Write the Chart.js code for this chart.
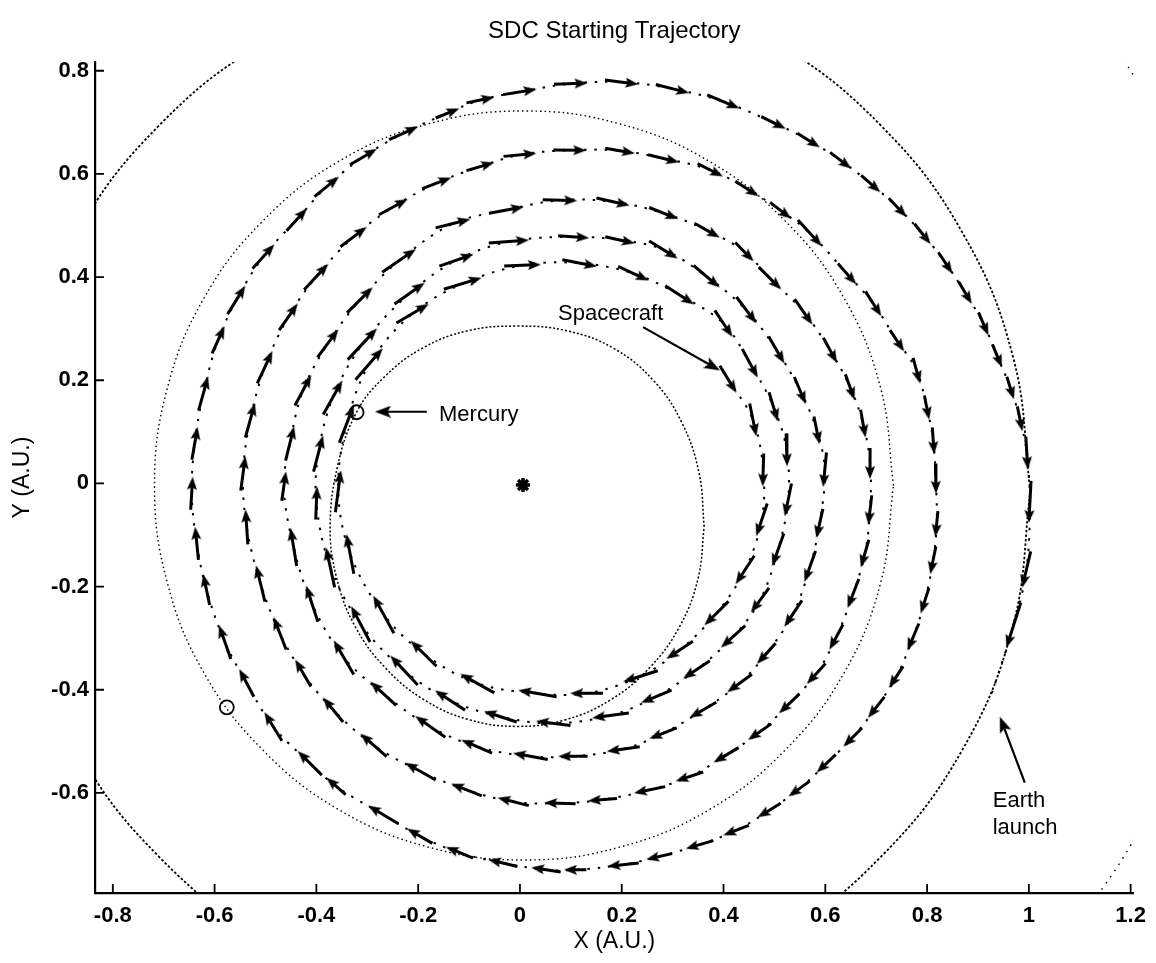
<!DOCTYPE html>
<html>
<head>
<meta charset="utf-8">
<script src="https://cdn.jsdelivr.net/npm/chart.js@4/dist/chart.umd.min.js"></script>
<style>
html,body{margin:0;padding:0;background:#fff;}
#wrap{width:1156px;height:963px;}
</style>
</head>
<body>
<div id="wrap"><canvas id="c" width="1156" height="963"></canvas></div>
<script>
// ---------- text ----------
const chartTitle = 'SDC Starting Trajectory';
const xAxisTitle = 'X (A.U.)';
const yAxisTitle = 'Y (A.U.)';
const xTickValues = [-0.8, -0.6, -0.4, -0.2, 0, 0.2, 0.4, 0.6, 0.8, 1, 1.2];
const yTickValues = [-0.6, -0.4, -0.2, 0, 0.2, 0.4, 0.6, 0.8];
const xRange = [-0.835, 1.206];
const yRange = [-0.794, 0.817];

// ---------- orbits ----------
const earthOrbit = [
  [1.003,-0.015],[0.969,0.245],[0.869,0.487],[0.709,0.694],[0.502,0.854],[0.260,0.954],
  [0,0.988],[-0.260,0.954],[-0.502,0.854],[-0.709,0.694],[-0.869,0.487],[-0.969,0.245],
  [-1.003,-0.015],[-0.969,-0.275],[-0.869,-0.517],[-0.709,-0.724],[-0.502,-0.884],[-0.260,-0.984],
  [0,-1.018],[0.260,-0.984],[0.502,-0.884],[0.709,-0.724],[0.869,-0.517],[0.969,-0.275],[1.003,-0.015]
];
const venusOrbit = [
  [0.734,-0.004],[0.709,0.184],[0.637,0.359],[0.521,0.509],[0.371,0.625],[0.196,0.697],
  [0.008,0.722],[-0.180,0.697],[-0.355,0.625],[-0.505,0.509],[-0.621,0.359],[-0.693,0.184],
  [-0.718,-0.004],[-0.693,-0.192],[-0.621,-0.367],[-0.505,-0.517],[-0.355,-0.633],[-0.180,-0.705],
  [0.008,-0.730],[0.196,-0.705],[0.371,-0.633],[0.521,-0.517],[0.637,-0.367],[0.709,-0.192],[0.734,-0.004]
];
const mercuryOrbit = [
  [0.362,-0.084],[0.352,0.020],[0.318,0.118],[0.262,0.200],[0.184,0.262],[0.092,0.296],
  [-0.005,0.305],[-0.102,0.296],[-0.192,0.262],[-0.268,0.205],[-0.321,0.138],[-0.358,0.035],
  [-0.373,-0.084],[-0.360,-0.184],[-0.324,-0.277],[-0.265,-0.357],[-0.189,-0.419],[-0.100,-0.458],
  [-0.005,-0.471],[0.090,-0.458],[0.179,-0.419],[0.255,-0.357],[0.314,-0.277],[0.350,-0.184],[0.362,-0.084]
];
const marsOrbit = [
  [1.065,-0.893],[1.204,-0.695],[1.311,-0.477],[1.379,-0.243],[1.410,0],
  [1.398,0.247],[1.344,0.489],[1.247,0.720],[1.111,0.932]
];
const sunPosition = [[0.006,-0.003]];
const planetMarkers = [[-0.321,0.138],[-0.576,-0.434]];

// ---------- spacecraft trajectory (arrow positions, in time order) ----------
const trajectory = [
  [0.409,0.202],[0.458,0.123],[0.478,0.026],[0.475,-0.071],[0.442,-0.168],[0.386,-0.252],
  [0.314,-0.323],[0.236,-0.374],[0.131,-0.407],[0.033,-0.407],[-0.085,-0.387],[-0.19,-0.329],
  [-0.269,-0.252],[-0.334,-0.135],[-0.357,-0.013],[-0.34,0.117],[-0.295,0.233],[-0.21,0.33],
  [-0.111,0.388],[0.006,0.423],[0.118,0.427],[0.223,0.407],[0.314,0.365],[0.40,0.31],
  [0.452,0.233],[0.498,0.149],[0.524,0.065],[0.527,-0.032],[0.507,-0.129],[0.472,-0.226],
  [0.419,-0.297],[0.347,-0.361],[0.268,-0.413],[0.177,-0.45],[0.065,-0.465],[-0.039,-0.452],
  [-0.138,-0.42],[-0.229,-0.361],[-0.314,-0.271],[-0.373,-0.161],[-0.40,-0.038],[-0.396,0.059],
  [-0.367,0.168],[-0.308,0.272],[-0.216,0.369],[-0.124,0.433],[-0.02,0.469],[0.105,0.478],
  [0.196,0.472],[0.282,0.453],[0.367,0.401],[0.445,0.336],[0.504,0.259],[0.55,0.181],
  [0.583,0.104],[0.599,0.026],[0.589,-0.077],[0.57,-0.161],[0.537,-0.252],[0.485,-0.329],
  [0.432,-0.387],[0.36,-0.439],[0.282,-0.484],[0.203,-0.515],[0.105,-0.529],[0.02,-0.529],
  [-0.085,-0.51],[-0.177,-0.471],[-0.269,-0.407],[-0.347,-0.336],[-0.409,-0.232],[-0.445,-0.122],
  [-0.464,-0.006],[-0.452,0.078],[-0.426,0.181],[-0.377,0.272],[-0.314,0.356],[-0.236,0.433],
  [-0.131,0.504],[-0.026,0.53],[0.079,0.549],[0.183,0.546],[0.282,0.524],[0.367,0.491],
  [0.44,0.45],[0.491,0.398],[0.557,0.333],[0.609,0.259],[0.648,0.188],[0.674,0.117],
  [0.688,0.039],[0.688,-0.051],[0.678,-0.135],[0.655,-0.213],[0.622,-0.297],[0.583,-0.368],
  [0.53,-0.426],[0.472,-0.481],[0.406,-0.526],[0.334,-0.568],[0.255,-0.594],[0.163,-0.613],
  [0.079,-0.62],[-0.013,-0.617],[-0.105,-0.594],[-0.196,-0.558],[-0.288,-0.507],[-0.367,-0.439],
  [-0.426,-0.368],[-0.472,-0.29],[-0.51,-0.193],[-0.537,-0.084],[-0.544,0.02],[-0.53,0.123],
  [-0.501,0.226],[-0.455,0.323],[-0.40,0.401],[-0.327,0.478],[-0.249,0.536],[-0.164,0.582],
  [-0.079,0.614],[0,0.637],[0.098,0.646],[0.196,0.645],[0.282,0.63],[0.373,0.608],
  [0.445,0.572],[0.511,0.53],[0.57,0.485],[0.642,0.407],[0.694,0.349],[0.74,0.278],
  [0.779,0.22],[0.799,0.149],[0.812,0.084],[0.817,0.01],[0.819,-0.077],[0.812,-0.148],
  [0.796,-0.226],[0.773,-0.297],[0.74,-0.374],[0.701,-0.433],[0.655,-0.491],[0.603,-0.542],
  [0.55,-0.591],[0.491,-0.633],[0.426,-0.672],[0.354,-0.70],[0.275,-0.723],[0.203,-0.739],
  [0.111,-0.749],[0.052,-0.749],[-0.033,-0.736],[-0.118,-0.716],[-0.196,-0.684],[-0.269,-0.642],
  [-0.36,-0.588],[-0.413,-0.542],[-0.485,-0.471],[-0.537,-0.387],[-0.58,-0.307],[-0.616,-0.206],
  [-0.635,-0.116],[-0.645,-0.019],[-0.639,0.078],[-0.622,0.175],[-0.593,0.278],[-0.557,0.356],
  [-0.504,0.44],[-0.439,0.511],[-0.38,0.575],[-0.308,0.633],[-0.229,0.679],[-0.144,0.717],
  [-0.079,0.743],[0,0.759],[0.1,0.775],[0.2,0.778],[0.3,0.765],[0.4,0.74],
  [0.497,0.70],[0.566,0.666],[0.629,0.627],[0.688,0.582],[0.741,0.536],[0.79,0.485],
  [0.835,0.429],[0.874,0.371],[0.91,0.311],[0.937,0.249],[0.963,0.187],[0.982,0.127],
  [0.996,0.059],[1.002,-0.038],[0.995,-0.168],[0.969,-0.278],[0.923,-0.42]
];

// ---------- annotations ----------
const labelTexts = ['Spacecraft', 'Mercury', 'Earth', 'launch'];
const labelAnchors = [[0.075,0.317],[-0.159,0.121],[0.929,-0.628],[0.929,-0.679]];
const pointerTails = [[0.242,0.303],[-0.183,0.139],[0.992,-0.580]];
const pointerTips  = [[0.393,0.219],[-0.285,0.139],[0.943,-0.452]];

// ---------- build ----------
const FONT = '"Liberation Sans", Arial, Helvetica, sans-serif';
const PX_PER_UNIT = 510;
const toXY = a => a.map(p => ({x: p[0], y: p[1]}));

function makeHead(w, h) {
  const c = document.createElement('canvas');
  c.width = w; c.height = h;
  const g = c.getContext('2d');
  g.fillStyle = '#000';
  g.beginPath();
  g.moveTo(w / 2, 0);
  g.lineTo(w, h);
  g.lineTo(w / 2, h * 0.8);
  g.lineTo(0, h);
  g.closePath();
  g.fill();
  return c;
}
const smallHead = makeHead(10, 13);
const bigHead = makeHead(12, 16);

const shaftData = [], headData = [], headRot = [];
for (let i = 0; i < trajectory.length - 1; i++) {
  const [x0, y0] = trajectory[i], [x1, y1] = trajectory[i + 1];
  const dx = x1 - x0, dy = y1 - y0;
  shaftData.push({x: x0 - 0.33 * dx, y: y0 - 0.33 * dy}, {x: x0 + 0.2 * dx, y: y0 + 0.2 * dy}, {x: null, y: null});
  headData.push({x: x0 + 0.2 * dx, y: y0 + 0.2 * dy});
  headRot.push(Math.atan2(dx, dy) * 180 / Math.PI);
}

const ptrShaft = [], ptrHead = [], ptrRot = [];
for (let i = 0; i < pointerTails.length; i++) {
  const [tx, ty] = pointerTails[i], [hx, hy] = pointerTips[i];
  const dx = hx - tx, dy = hy - ty, L = Math.hypot(dx, dy);
  const back = 8 / PX_PER_UNIT;
  const cx = hx - dx / L * back, cy = hy - dy / L * back;
  ptrShaft.push({x: tx, y: ty}, {x: cx, y: cy}, {x: null, y: null});
  ptrHead.push({x: cx, y: cy});
  ptrRot.push(Math.atan2(dx, dy) * 180 / Math.PI);
}

const innerTicks = {
  id: 'innerTicks',
  afterDraw(chart) {
    const {ctx, chartArea: a, scales: {x, y}} = chart;
    ctx.save();
    ctx.strokeStyle = '#000';
    ctx.lineWidth = 1.8;
    ctx.beginPath();
    xTickValues.forEach(v => { const p = x.getPixelForValue(v); ctx.moveTo(p, a.bottom); ctx.lineTo(p, a.bottom - 9); });
    yTickValues.forEach(v => { const p = y.getPixelForValue(v); ctx.moveTo(a.left, p); ctx.lineTo(a.left + 9, p); });
    ctx.stroke();
    ctx.fillStyle = '#000';
    ctx.font = '22px ' + FONT;
    ctx.textAlign = 'left';
    ctx.textBaseline = 'alphabetic';
    labelTexts.forEach((t, i) => {
      ctx.fillText(t, x.getPixelForValue(labelAnchors[i][0]), y.getPixelForValue(labelAnchors[i][1]));
    });
    ctx.restore();
  }
};

const fmt = v => String(Number(Number(v).toFixed(1)));

new Chart(document.getElementById('c'), {
  type: 'scatter',
  data: {
    datasets: [
      { label: 'pointer heads', data: ptrHead, showLine: false, pointStyle: bigHead, pointRadius: 6,
        rotation: c => ptrRot[c.dataIndex] },
      { label: 'pointer shafts', data: ptrShaft, showLine: true, spanGaps: false, borderColor: '#000',
        borderWidth: 2.2, pointRadius: 0 },
      { label: 'arrow heads', data: headData, showLine: false, pointStyle: smallHead, pointRadius: 5,
        rotation: c => headRot[c.dataIndex] },
      { label: 'arrow shafts', data: shaftData, showLine: true, spanGaps: false, borderColor: '#000',
        borderWidth: 3, pointRadius: 0, borderCapStyle: 'butt' },
      { label: 'Sun', data: toXY(sunPosition), showLine: false, pointStyle: 'star', pointRadius: 7,
        borderColor: '#000', borderWidth: 3.5, backgroundColor: '#000' },
      { label: 'Planets', data: toXY(planetMarkers), showLine: false, pointStyle: 'circle', pointRadius: 7,
        borderColor: '#000', borderWidth: 1.8, backgroundColor: 'rgba(0,0,0,0)' },
      { label: 'Spacecraft', data: toXY(trajectory), showLine: true, tension: 0.35, borderColor: '#000',
        borderWidth: 2, borderDash: [2.5, 8], pointRadius: 0 },
      { label: 'Mercury orbit', data: toXY(mercuryOrbit), showLine: true, tension: 0.4, borderColor: '#000',
        borderWidth: 1.5, borderDash: [2, 2], pointRadius: 0 },
      { label: 'Venus orbit', data: toXY(venusOrbit), showLine: true, tension: 0.4, borderColor: '#000',
        borderWidth: 1.4, borderDash: [1.5, 3], pointRadius: 0 },
      { label: 'Earth orbit', data: toXY(earthOrbit), showLine: true, tension: 0.4, borderColor: '#000',
        borderWidth: 1.8, borderDash: [2.5, 2], pointRadius: 0 },
      { label: 'Mars orbit', data: toXY(marsOrbit), showLine: true, tension: 0.4, borderColor: '#000',
        borderWidth: 1.4, borderDash: [1.5, 6], pointRadius: 0 }
    ]
  },
  options: {
    responsive: false,
    animation: false,
    devicePixelRatio: 1,
    events: [],
    layout: { padding: { left: 0, right: 22, top: 0, bottom: 0 } },
    plugins: {
      legend: { display: false },
      tooltip: { enabled: false },
      title: {
        display: true, text: chartTitle, color: '#000', fullSize: false,
        font: { family: FONT, size: 24, weight: 'normal' },
        padding: { top: 17.4, bottom: 15.8 }
      }
    },
    scales: {
      x: {
        type: 'linear', min: xRange[0], max: xRange[1],
        afterBuildTicks: s => { s.ticks = xTickValues.map(v => ({value: v})); },
        afterFit: s => { s.height = 70; },
        grid: { display: false, drawTicks: false },
        border: { display: true, color: '#000', width: 2.2 },
        ticks: { color: '#000', padding: 10, autoSkip: false, maxRotation: 0,
          font: { family: FONT, size: 22, weight: 'bold' }, callback: v => fmt(v) },
        title: { display: true, text: xAxisTitle, color: '#000',
          font: { family: FONT, size: 23, weight: 'normal' }, padding: { top: 0, bottom: 7.5 } }
      },
      y: {
        type: 'linear', min: yRange[0], max: yRange[1],
        afterBuildTicks: s => { s.ticks = yTickValues.map(v => ({value: v})); },
        afterFit: s => { s.width = 95; },
        grid: { display: false, drawTicks: false },
        border: { display: true, color: '#000', width: 2.2 },
        ticks: { color: '#000', padding: 6, autoSkip: false,
          font: { family: FONT, size: 22, weight: 'bold' }, callback: v => fmt(v) },
        title: { display: true, text: yAxisTitle, color: '#000',
          font: { family: FONT, size: 23, weight: 'normal' }, padding: { top: 8.5, bottom: 0 } }
      }
    }
  },
  plugins: [innerTicks]
});
</script>
</body>
</html>
